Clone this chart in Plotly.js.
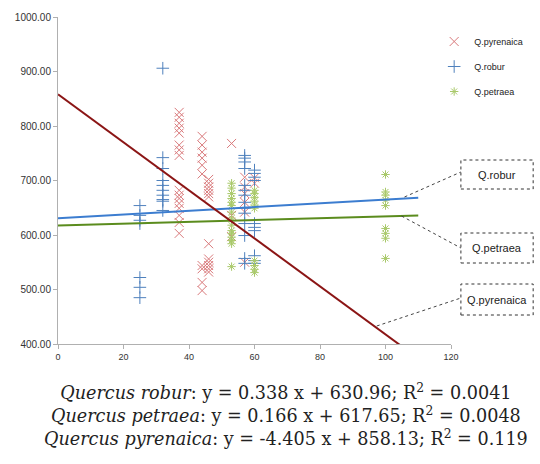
<!DOCTYPE html>
<html><head><meta charset="utf-8">
<script src="https://cdn.plot.ly/plotly-3.0.1.min.js"></script>
<style>html,body{margin:0;padding:0;background:#fff}#c{width:540px;height:464px}</style>
</head><body><div id="c"></div>
<script>
// Q.pyrenaica
const pyrX = [37,37,37,37,37,37,37,37,37,37,37,37,37,37,37,37,
              44,44,44,44,44,44,44,44,44,44,
              46,46,46,46,46,46,46,46,46,46,46,46,
              53,53,53,
              57,57,57,57,57,57,
              60,60];
const pyrY = [825,816,805,796,787,765,756,746,682,673,667,658,649,636,623,603,
              781,765,752,741,728,712,544,538,513,498,
              702,695,688,682,676,670,584,556,550,544,538,532,
              768,636,597,
              706,688,676,660,642,550,
              705,695];
// Q.robur
const robX = [25,25,25,25,25,25,25,
              32,32,32,32,32,32,32,32,32,32,
              57,57,57,57,57,57,57,57,57,57,57,57,57,57,
              60,60,60,60,60,60,60,60,60,60];
const robY = [654,636,627,621,522,504,485,
              906,742,722,700,691,682,673,665,662,645,
              746,741,734,722,691,682,673,660,649,640,621,599,557,548,
              719,713,706,700,621,614,608,562,553,548];
// Q.petraea
const petX = [53,53,53,53,53,53,53,53,53,53,53,53,53,53,53,
              60,60,60,60,60,60,60,60,60,60,
              100,100,100,100,100,100,100,100,100];
const petY = [695,686,676,667,660,654,642,631,618,608,603,596,590,584,542,
              682,676,669,662,655,649,553,544,537,531,
              711,679,673,664,654,612,603,594,557];

// Regression equations (from the caption)
const species = ['Q.robur','Q.petraea','Q.pyrenaica'];
const slopes = [0.338, 0.166, -4.405];
const intercepts = [630.96, 617.65, 858.13];
const r2 = ['0.0041','0.0048','0.119'];
const latin = ['Quercus robur','Quercus petraea','Quercus pyrenaica'];
const fitRange = [0, 110];

const xTicks = [0,20,40,60,80,100,120];
const yTicks = [400,500,600,700,800,900,1000];

const lineColors = ['#3c7dd0','#5b8c1e','#8b1515'];

const traces = [
  {x: pyrX, y: pyrY, type:'scatter', mode:'markers', name:'Q.pyrenaica', legendgroup:'a',
   marker:{symbol:'x-thin-open', size:9, color:'#d9797b', line:{color:'#d9797b', width:1}}},
  {x: robX, y: robY, type:'scatter', mode:'markers', name:'Q.robur', legendgroup:'b',
   marker:{symbol:'cross-thin-open', size:9, color:'#4f81bd', line:{color:'#4f81bd', width:1}}},
  {x: petX, y: petY, type:'scatter', mode:'markers', name:'Q.petraea', legendgroup:'c',
   marker:{symbol:'asterisk-open', size:7, color:'#a9c96a', line:{color:'#a9c96a', width:1}}}
];
species.forEach((s,i)=>{
  traces.push({x: fitRange, y: fitRange.map(v=>slopes[i]*v+intercepts[i]), type:'scatter', mode:'lines',
    showlegend:false, hoverinfo:'skip', line:{color: lineColors[i], width:2}});
});

// pixel -> paper helpers (plot area 58..455 x, 17..344 y)
const L=58, R=455, T=17, B=344;
const px = p => (p-L)/(R-L);
const py = p => (B-p)/(B-T);

const boxes = [
  {label:'Q.robur', top:160, bot:189, from:[408,197], to:[465,172]},
  {label:'Q.petraea', top:233, bot:263, from:[405,216], to:[465,248]},
  {label:'Q.pyrenaica', top:284, bot:315, from:[380,326], to:[465,298]}
];
const shapes = [], annotations = [];
boxes.forEach(b=>{
  shapes.push({type:'rect', xref:'paper', yref:'paper', x0:px(465), x1:px(538), y0:py(b.bot), y1:py(b.top),
    line:{color:'#333', width:1, dash:'dot'}, fillcolor:'#fff'});
  shapes.push({type:'line', xref:'paper', yref:'paper', x0:px(b.from[0]), y0:py(b.from[1]), x1:px(b.to[0]), y1:py(b.to[1]),
    line:{color:'#444', width:1, dash:'dot'}});
  annotations.push({xref:'paper', yref:'paper', x:px(501.5), y:py((b.top+b.bot)/2), text:b.label, showarrow:false,
    font:{family:'Liberation Sans, Arial', size:11, color:'#222'}, xanchor:'center', yanchor:'middle'});
});
const caption = species.map((s,i)=>
  '<i>'+latin[i]+'</i>: y = '+slopes[i].toFixed(3)+' x + '+intercepts[i].toFixed(2)+'; R<sup>2</sup> = '+r2[i]).join('<br>');
annotations.push({xref:'paper', yref:'paper', x:px(288), y:py(415), text:caption, showarrow:false, align:'center',
  xanchor:'center', yanchor:'middle', font:{family:'DejaVu Serif, serif', size:17.6, color:'#222'}});

const layout = {
  width:540, height:464,
  margin:{l:58, r:85, t:17, b:120},
  paper_bgcolor:'#fff', plot_bgcolor:'#fff',
  showlegend:true,
  legend:{x:px(438), xanchor:'left', y:py(27), yanchor:'top', tracegroupgap:6,
    font:{family:'Liberation Sans, Arial', size:9, color:'#222'}, bgcolor:'rgba(0,0,0,0)', itemwidth:30},
  xaxis:{range:[0,120], tickvals:xTicks, ticktext:xTicks.map(String), showgrid:false, zeroline:false,
    showline:true, linecolor:'#b0b0b0', linewidth:1, ticks:'outside', ticklen:4, tickcolor:'#b0b0b0',
    tickfont:{family:'Liberation Sans, Arial', size:9, color:'#333'}},
  yaxis:{range:[400,1000], tickvals:yTicks, ticktext:yTicks.map(v=>v.toFixed(2)), showgrid:false, zeroline:false,
    showline:true, linecolor:'#b0b0b0', linewidth:1, ticks:'outside', ticklen:4, tickcolor:'#b0b0b0',
    tickfont:{family:'Liberation Sans, Arial', size:10, color:'#333'}},
  shapes: shapes, annotations: annotations
};
Plotly.newPlot('c', traces, layout, {displayModeBar:false, staticPlot:true});
</script></body></html>
